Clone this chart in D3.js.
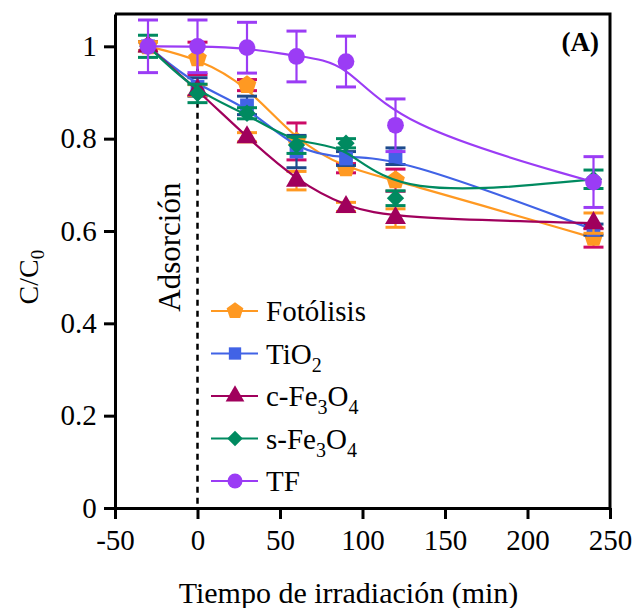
<!DOCTYPE html>
<html>
<head>
<meta charset="utf-8">
<script src="https://cdn.jsdelivr.net/npm/d3@7"></script>
<style>
  html, body { margin: 0; padding: 0; background: #fff; }
  text { font-family: "Liberation Serif", "Times New Roman", serif; fill: #000; }
</style>
</head>
<body>
<svg id="chart" width="634" height="608"></svg>
<script>
// ---- data ----
const times = [-30, 0, 30, 60, 90, 120, 240];
const xTicks = [-50, 0, 50, 100, 150, 200, 250];
const xTickLabels = ["-50", "0", "50", "100", "150", "200", "250"];
const yTicks = [0, 0.2, 0.4, 0.6, 0.8, 1];
const yTickLabels = ["0", "0.2", "0.4", "0.6", "0.8", "1"];

const fotolisis    = [1.0, 0.974, 0.916, 0.794, 0.736, 0.710, 0.585];
const fotolisisErr = [0.010, 0.035, 0.012, 0.040, 0.010, 0.024, 0.020];
const tio2         = [1.0, 0.912, 0.872, 0.772, 0.757, 0.762, 0.603];
const tio2Err      = [0.010, 0.020, 0.020, 0.035, 0.015, 0.018, 0.012];
const cFe3O4       = [1.0, 0.905, 0.803, 0.709, 0.652, 0.628, 0.617];
const cFe3O4Err    = [0.010, 0.012, 0.010, 0.020, 0.010, 0.020, 0.022];
const sFe3O4       = [1.0, 0.898, 0.855, 0.786, 0.790, 0.671, 0.712];
const sFe3O4Err    = [0.024, 0.020, 0.012, 0.018, 0.010, 0.016, 0.020];
const tf           = [1.0, 1.0, 0.997, 0.978, 0.967, 0.829, 0.706];
const tfErr        = [0.057, 0.057, 0.055, 0.055, 0.055, 0.057, 0.055];

// pentagon symbol
const symbolPentagon = {
  draw(ctx, size) {
    const r = Math.sqrt(size / 2.378);
    for (let i = 0; i < 5; i++) {
      const a = -Math.PI / 2 + i * 2 * Math.PI / 5;
      const px = r * Math.cos(a), py = r * Math.sin(a);
      if (i === 0) ctx.moveTo(px, py); else ctx.lineTo(px, py);
    }
    ctx.closePath();
  }
};

const series = [
  { name: "Fotólisis", label: [["Fotólisis", false]], values: fotolisis, err: fotolisisErr,
    color: "#ff9922", errColor: "#cc0a66", symbol: symbolPentagon, size: 230, rot: 0 },
  { name: "TiO2", label: [["TiO", false], ["2", true]], values: tio2, err: tio2Err,
    color: "#4163e6", errColor: "#1d4a8c", symbol: d3.symbolSquare, size: 190, rot: 0 },
  { name: "c-Fe3O4", label: [["c-Fe", false], ["3", true], ["O", false], ["4", true]], values: cFe3O4, err: cFe3O4Err,
    color: "#a0005c", errColor: "#ff9922", symbol: d3.symbolTriangle, size: 190, rot: 0 },
  { name: "s-Fe3O4", label: [["s-Fe", false], ["3", true], ["O", false], ["4", true]], values: sFe3O4, err: sFe3O4Err,
    color: "#008a60", errColor: "#008a60", symbol: d3.symbolSquare, size: 150, rot: 45 },
  { name: "TF", label: [["TF", false]], values: tf, err: tfErr,
    color: "#9b3cf5", errColor: "#9b3cf5", symbol: d3.symbolCircle, size: 220, rot: 0 }
];

// ---- layout ----
const svg = d3.select("#chart");
const x = d3.scaleLinear().domain([-50, 250]).range([115, 610]);
const y = d3.scaleLinear().domain([0, 1.07]).range([508, 14]);

// dashed adsorption line at t = 0
svg.append("line")
  .attr("x1", x(0)).attr("x2", x(0))
  .attr("y1", y(0.975)).attr("y2", y(0))
  .attr("stroke", "#000").attr("stroke-width", 2.5)
  .attr("stroke-dasharray", "6,5");

svg.append("text")
  .attr("transform", `translate(${x(-10.5)},${y(0.565)}) rotate(-90)`)
  .attr("text-anchor", "middle")
  .attr("font-size", 31)
  .text("Adsorción");

// series
const line = d3.line().x((d, i) => x(times[i])).y(d => y(d)).curve(d3.curveBasis);
const capW = 10;

series.forEach(s => {
  const g = svg.append("g");
  s.values.forEach((v, i) => {
    const e = s.err[i];
    const cx = x(times[i]);
    g.append("line").attr("x1", cx).attr("x2", cx).attr("y1", y(v - e)).attr("y2", y(v + e))
      .attr("stroke", s.errColor).attr("stroke-width", 2.2);
    [v - e, v + e].forEach(yy => {
      g.append("line").attr("x1", cx - capW).attr("x2", cx + capW).attr("y1", y(yy)).attr("y2", y(yy))
        .attr("stroke", s.errColor).attr("stroke-width", 3);
    });
  });
  g.append("path").attr("d", line(s.values))
    .attr("fill", "none").attr("stroke", s.color).attr("stroke-width", 2.2);
  const sym = d3.symbol().type(s.symbol).size(s.size);
  s.values.forEach((v, i) => {
    g.append("path").attr("d", sym())
      .attr("transform", `translate(${x(times[i])},${y(v)}) rotate(${s.rot})`)
      .attr("fill", s.color);
  });
});

// axes
const xAxis = d3.axisBottom(x).tickValues(xTicks).tickSize(11).tickSizeOuter(0)
  .tickFormat((d, i) => xTickLabels[i]);
const gx = svg.append("g").attr("transform", `translate(0,${y(0)})`).call(xAxis);
gx.select(".domain").attr("stroke-width", 3);
gx.selectAll(".tick line").attr("stroke-width", 3);
gx.selectAll(".tick text").attr("font-size", 29).attr("font-family", "Liberation Serif").attr("dy", "0.95em");

const yAxis = d3.axisLeft(y).tickValues(yTicks).tickSize(11).tickSizeOuter(0).tickFormat((d, i) => yTickLabels[i]);
const gy = svg.append("g").attr("transform", `translate(${x(-50)},0)`).call(yAxis);
gy.select(".domain").attr("stroke-width", 3);
gy.selectAll(".tick line").attr("stroke-width", 3);
gy.selectAll(".tick text").attr("font-size", 29).attr("font-family", "Liberation Serif").attr("dx", "-0.15em");

// frame top & right
svg.append("path")
  .attr("d", `M${x(-50)},${y(1.07)} H${x(250)} V${y(0)}`)
  .attr("fill", "none").attr("stroke", "#000").attr("stroke-width", 3);

// axis titles
svg.append("text")
  .attr("x", (x(-50) + x(250)) / 2 - 14).attr("y", 603)
  .attr("text-anchor", "middle").attr("font-size", 30)
  .text("Tiempo de irradiación (min)");

const yt = svg.append("text")
  .attr("transform", `translate(38,${y(0.5)}) rotate(-90)`)
  .attr("text-anchor", "middle").attr("font-size", 28);
yt.append("tspan").text("C/C");
yt.append("tspan").attr("font-size", 19).attr("dy", 6).text("0");

// panel label
svg.append("text")
  .attr("x", 599).attr("y", 51).attr("text-anchor", "end")
  .attr("font-size", 27).attr("font-weight", "bold").text("(A)");

// legend
const leg = svg.append("g");
series.forEach((s, i) => {
  const ly = 311 + i * 42.5;
  leg.append("line").attr("x1", 211).attr("x2", 258).attr("y1", ly).attr("y2", ly)
    .attr("stroke", s.color).attr("stroke-width", 2.2);
  leg.append("path").attr("d", d3.symbol().type(s.symbol).size(s.size * 0.8)())
    .attr("transform", `translate(235,${ly}) rotate(${s.rot})`).attr("fill", s.color);
  const t = leg.append("text").attr("x", 266).attr("y", ly + 10).attr("font-size", 29);
  s.label.forEach(([str, sub], k) => {
    const prevSub = k > 0 && s.label[k - 1][1];
    const ts = t.append("tspan").text(str);
    if (sub) ts.attr("font-size", 20).attr("dy", 8);
    else if (prevSub) ts.attr("dy", -8);
  });
});
</script>
</body>
</html>
